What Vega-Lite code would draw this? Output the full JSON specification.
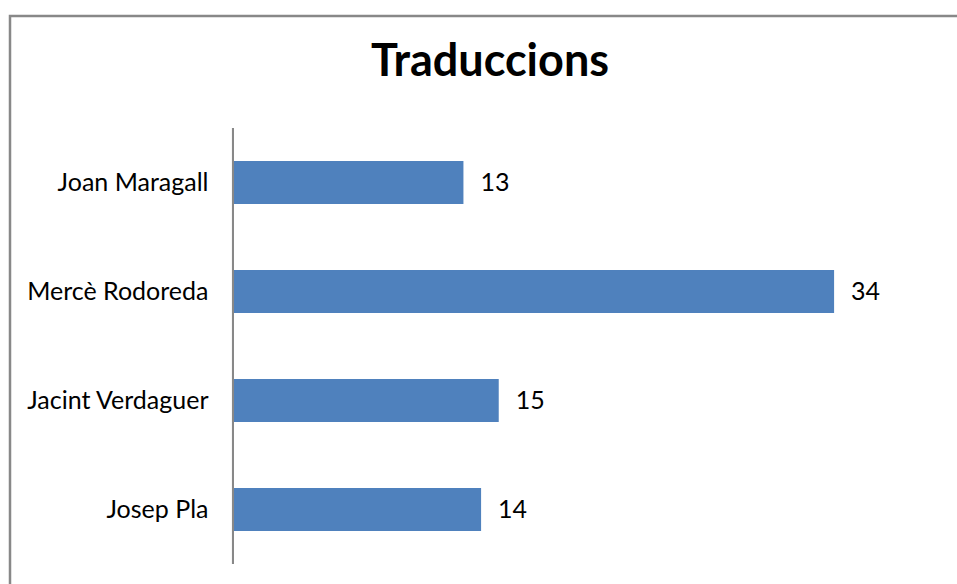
{
  "$schema": "https://vega.github.io/schema/vega-lite/v6.json",
  "autosize": {"type": "none"},
  "width": 960,
  "height": 580,
  "padding": {"left": 10, "top": 16, "right": 0, "bottom": 0},
  "background": "white",
  "config": {
    "view": {"stroke": "#888888", "strokeWidth": 2.5},
    "font": "Lato"
  },
  "title": {
    "text": "Traduccions",
    "font": "Lato",
    "fontSize": 45,
    "fontWeight": "bold",
    "color": "#000000",
    "anchor": "middle",
    "frame": "group",
    "baseline": "alphabetic",
    "offset": -105
  },
  "data": {
    "values": [
      {"name": "Joan Maragall", "value": 13},
      {"name": "Mercè Rodoreda", "value": 34},
      {"name": "Jacint Verdaguer", "value": 15},
      {"name": "Josep Pla", "value": 14}
    ]
  },
  "resolve": {"scale": {"y": "independent"}},
  "layer": [
    {
      "encoding": {
        "y": {
          "field": "name",
          "type": "nominal",
          "sort": null,
          "scale": {"paddingInner": 0.6055, "paddingOuter": 0.9633, "align": 0.6905},
          "axis": {
            "title": null,
            "domain": false,
            "ticks": false,
            "tickSize": 0,
            "offset": -224,
            "labelPadding": 26,
            "labelFont": "Lato",
            "labelFontSize": 25,
            "labelColor": "#000000",
            "labelLimit": 400
          }
        },
        "x": {
          "field": "value",
          "type": "quantitative",
          "scale": {"domain": [-12.69, 41.7], "nice": false, "zero": false},
          "axis": null
        }
      },
      "layer": [
        {"mark": {"type": "bar", "color": "#4F81BD"}},
        {
          "mark": {"type": "text", "align": "left", "baseline": "middle", "dx": 17, "font": "Lato", "fontSize": 25, "color": "#000000"},
          "encoding": {"text": {"field": "value", "type": "quantitative"}}
        }
      ]
    },
    {
      "mark": {"type": "rule", "color": "#888888", "strokeWidth": 2, "xOffset": -1},
      "encoding": {
        "x": {"datum": 0, "type": "quantitative"},
        "y": {"datum": 0.807, "type": "quantitative", "scale": {"domain": [0, 1], "nice": false, "zero": false}, "axis": null},
        "y2": {"datum": 0.055}
      }
    }
  ]
}
